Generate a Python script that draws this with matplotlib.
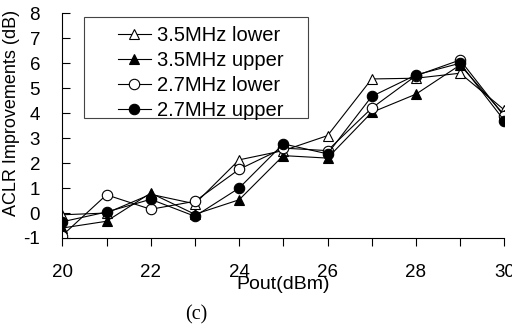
import matplotlib
matplotlib.use("Agg")
import matplotlib.pyplot as plt
from matplotlib.patches import Rectangle

plt.rcParams['font.family'] = ['Liberation Sans', 'DejaVu Sans']
plt.rcParams['axes.unicode_minus'] = False

x = [20, 21, 22, 23, 24, 25, 26, 27, 28, 29, 30]
mhz35_lower = [-0.07, 0.0, 0.75, 0.37, 2.13, 2.5, 3.1, 5.37, 5.4, 5.6, 4.13]
mhz35_upper = [-0.6, -0.33, 0.8, -0.05, 0.53, 2.3, 2.2, 4.03, 4.76, 5.93, 3.93]
mhz27_lower = [-0.9, 0.73, 0.15, 0.47, 1.75, 2.6, 2.5, 4.2, 5.5, 6.13, 3.87]
mhz27_upper = [-0.35, 0.04, 0.55, -0.13, 1.0, 2.77, 2.37, 4.67, 5.53, 6.0, 3.7]
labels = ['3.5MHz lower', '3.5MHz upper', '2.7MHz lower', '2.7MHz upper']
xticks = [20, 22, 24, 26, 28, 30]
yticks = [-1, 0, 1, 2, 3, 4, 5, 6, 7, 8]

fig = plt.figure(figsize=(5.12, 3.33), dpi=100)
ax = fig.add_axes([62.3/512, 1-238/333, 442/512, 224.7/333])

styles = [('^', 'white'), ('^', 'black'), ('o', 'white'), ('o', 'black')]
series = [mhz35_lower, mhz35_upper, mhz27_lower, mhz27_upper]
for s, (m, fc), lab in zip(series, styles, labels):
    ax.plot(x, s, color='black', lw=0.8, marker=m, markersize=7.5,
            markerfacecolor=fc, markeredgecolor='black', markeredgewidth=0.8,
            label=lab)

ax.set_xlim(20, 30)
ax.set_ylim(-1, 8)
ax.set_xticks(xticks)
ax.set_xticks(range(20, 31), minor=True)
ax.set_yticks(yticks)
ax.spines['top'].set_visible(False)
ax.spines['right'].set_visible(False)
for sp in ['left', 'bottom']:
    ax.spines[sp].set_linewidth(0.8)
ax.tick_params(axis='x', which='both', direction='out', length=6, width=0.8,
               labelsize=13.5, pad=13)
ax.tick_params(axis='y', direction='in', length=6, width=0.8,
               labelsize=13.5, pad=16)
ax.set_xlabel('Pout(dBm)', fontsize=14, labelpad=-4)
ax.set_ylabel('ACLR Improvements (dB)', fontsize=13)
ax.yaxis.set_label_coords(-0.095, 0.555)

ax.add_patch(Rectangle((0.0498, 0.533), 0.505, 0.4505, transform=ax.transAxes,
                       fill=False, edgecolor='#444444', lw=0.8, zorder=5))
ax.legend(loc='upper left', bbox_to_anchor=(0.095, 1.005), frameon=False,
          fontsize=14.5, handlelength=1.6, handletextpad=0.3, labelspacing=0.3,
          borderpad=0.2)

fig.text(196/512, 1-315/333, '(c)', fontsize=14.5, family='Liberation Serif',
         ha='center', va='center')

fig.savefig('out.png', dpi=100)
